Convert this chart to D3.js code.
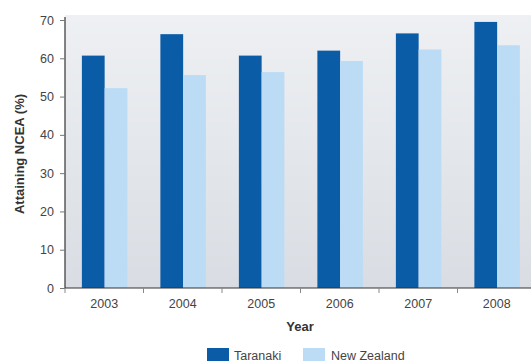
<!DOCTYPE html>
<html>
<head>
<meta charset="utf-8">
<script src="https://cdn.jsdelivr.net/npm/d3@7"></script>
<style>
  html, body { margin: 0; padding: 0; background: #ffffff; }
  svg { display: block; font-family: "Liberation Sans", Arial, sans-serif; }
</style>
</head>
<body>
<svg id="chart" width="531" height="363"></svg>
<script>
const years = ["2003", "2004", "2005", "2006", "2007", "2008"];
const seriesNames = ["Taranaki", "New Zealand"];
const taranaki = [60.7, 66.3, 60.7, 62.0, 66.5, 69.5];
const newZealand = [52.2, 55.6, 56.4, 59.3, 62.3, 63.4];
const yTicks = [0, 10, 20, 30, 40, 50, 60, 70];
const colors = ["#0b5ca7", "#bcdcf6"];

const svg = d3.select("#chart");
const mLeft = 65, mRight = 536, mTop = 20, mBottom = 288;

const x0 = d3.scaleBand().domain(years).range([mLeft, mRight]).padding(0);
const bw = x0.bandwidth();
const x1 = d3.scaleBand().domain(seriesNames).range([bw * 0.215, bw * 0.795]).padding(0);
const y = d3.scaleLinear().domain([0, 70]).range([mBottom, mTop]);

// plot background
const defs = svg.append("defs");
const grad = defs.append("linearGradient").attr("id", "bg").attr("x1", 0).attr("y1", 0).attr("x2", 0).attr("y2", 1);
grad.append("stop").attr("offset", "0%").attr("stop-color", "#eef0f3");
grad.append("stop").attr("offset", "100%").attr("stop-color", "#d9dde3");
svg.append("rect")
  .attr("x", mLeft).attr("y", mTop - 5)
  .attr("width", mRight - mLeft).attr("height", mBottom - mTop + 5)
  .attr("fill", "url(#bg)");

// bars
const data = years.map((yr, i) => ({ year: yr, values: [taranaki[i], newZealand[i]] }));
const groups = svg.append("g").selectAll("g").data(data).join("g")
  .attr("transform", d => `translate(${x0(d.year)},0)`);
groups.selectAll("rect")
  .data(d => d.values.map((v, j) => ({ name: seriesNames[j], value: v, j })))
  .join("rect")
  .attr("x", d => x1(d.name))
  .attr("width", x1.bandwidth())
  .attr("y", d => y(d.value))
  .attr("height", d => y(0) - y(d.value))
  .attr("fill", d => colors[d.j]);

// y axis
const yAxis = d3.axisLeft(y).tickValues(yTicks).tickSize(5).tickPadding(6).tickSizeOuter(0);
const gy = svg.append("g").attr("transform", `translate(${mLeft},0)`).call(yAxis);
gy.select(".domain").attr("stroke", "#333").attr("stroke-width", 1.2).attr("d", `M0,${mTop - 3}V${mBottom}`);
gy.selectAll(".tick line").attr("stroke", "#777");
gy.selectAll(".tick text").attr("fill", "#444").attr("font-size", "12.5px");

// x axis
const gx = svg.append("g").attr("transform", `translate(0,${mBottom})`);
gx.append("line").attr("x1", mLeft).attr("x2", mRight).attr("y1", 0).attr("y2", 0)
  .attr("stroke", "#333").attr("stroke-width", 1.2);
const boundaries = years.map(yr => x0(yr)).concat([mRight]);
gx.selectAll(".tk").data(boundaries).join("line")
  .attr("class", "tk")
  .attr("x1", d => d).attr("x2", d => d).attr("y1", 0).attr("y2", 5)
  .attr("stroke", "#888");
gx.selectAll(".lbl").data(years).join("text")
  .attr("class", "lbl")
  .attr("x", d => x0(d) + bw / 2).attr("y", 20)
  .attr("text-anchor", "middle").attr("fill", "#444").attr("font-size", "12.5px")
  .text(d => d);

// axis titles
svg.append("text")
  .attr("x", 300).attr("y", 331)
  .attr("text-anchor", "middle").attr("font-weight", "bold").attr("font-size", "13px").attr("fill", "#333")
  .text("Year");
svg.append("text")
  .attr("transform", `translate(24,${(mTop + mBottom) / 2}) rotate(-90)`)
  .attr("text-anchor", "middle").attr("font-weight", "bold").attr("font-size", "13px").attr("fill", "#333")
  .text("Attaining NCEA (%)");

// legend
const legendX = [207, 303];
const lg = svg.append("g").selectAll("g").data(seriesNames).join("g")
  .attr("transform", (d, i) => `translate(${legendX[i]},348)`);
lg.append("rect").attr("width", 22).attr("height", 13).attr("fill", (d, i) => colors[i]);
lg.append("text").attr("x", (d, i) => i === 0 ? 27 : 28).attr("y", 11.5)
  .attr("font-size", "12.5px").attr("fill", "#444").text(d => d);
</script>
</body>
</html>
